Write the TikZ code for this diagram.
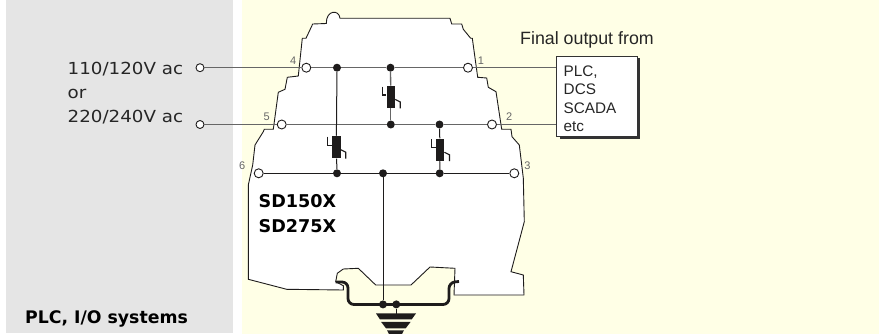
\documentclass[tikz,border=0pt]{standalone}
\usepackage{fontspec}
\setmainfont{Liberation Sans}
\newfontfamily\wideface{DejaVu Sans}
\newfontfamily\supplyface[FakeStretch=1.1]{DejaVu Sans}
\definecolor{panelgrey}{HTML}{E5E5E5}
\definecolor{paleyellow}{HTML}{FFFFE6}
\definecolor{wiregrey}{HTML}{666666}
\definecolor{inkblack}{HTML}{1E1C1C}
\tikzset{
	terminal/.style={circle,draw=inkblack,fill=white,line width=.9pt,minimum size=9pt,inner sep=0pt},
	source/.style={terminal,minimum size=8pt},
	joint/.style={circle,fill=inkblack,minimum size=8pt,inner sep=0pt},
	wire/.style={draw=wiregrey,line width=1.3pt},
	lead/.style={draw=inkblack,line width=1pt},
	varbox/.style={fill=inkblack,minimum width=8.5pt,minimum height=22.5pt,inner sep=0pt},
	hook/.style={draw=inkblack,line width=1.1pt},
	shell/.style={draw=inkblack,fill=white,line width=.9pt},
	pin/.style={text=wiregrey,font=\fontsize{11}{11}\selectfont,inner sep=0pt},
	supply/.style={anchor=base west,inner sep=0pt,font=\supplyface\fontsize{16.6}{18}\selectfont,text=black!85},
	boxline/.style={anchor=base west,inner sep=0pt,font=\fontsize{15.3}{18}\selectfont,text=black!85},
	partno/.style={anchor=base west,inner sep=0pt,font=\wideface\bfseries\fontsize{17.6}{18}\selectfont}
}
\begin{document}
\begin{tikzpicture}[x=1pt,y=-1pt]
	\useasboundingbox (0,0) rectangle (879,334);
	\fill[panelgrey] (6,0) rectangle (233,333);
	\fill[paleyellow] (242,0) rectangle (879,334);

	\draw[shell] (326.3,23.5) .. controls (326,10) and (339,9) .. (340,18.3) -- (450,18.3) -- (451.7,24) -- (461.7,24) -- (463.3,29.3) -- (470.7,38.3) -- (472.3,38.3) -- (477.7,77.3) -- (486.7,78) -- (488.3,87.3) -- (496,91.7) -- (501.7,129.3) -- (511,129.3) -- (512,136.7) -- (519.3,145) -- (523.3,178) -- (524.3,221.7) -- (511,271.7) -- (523.3,275) -- (524,295) -- (454,295) -- (455,268.3) -- (430,267) -- (411,285) -- (375.7,285) -- (358.3,268.3) -- (343.3,269) -- (337.3,273.3) -- (335.7,281.7) -- (343.3,285.7) -- (343.3,290) -- (286.7,289.3) -- (248.3,279.3) -- (248.3,185) -- (252.7,165) -- (255,145) -- (263.3,131.7) -- (264.3,129.3) -- (273.3,129.3) -- (278.3,92.3) -- (285,89.3) -- (287.3,77.3) -- (298.3,76) -- (302.3,38.3) -- (306,38.3) -- (312.7,24) -- cycle;

	\draw[inkblack,line width=2.8pt,rounded corners=6pt] (335.7,282) -- (348,282) -- (348,304.5) -- (449,304.5) -- (449,282.5) -- (459,281.5);

	\node[draw=black!80,fill=white,line width=.8pt,minimum width=80.5pt,minimum height=80pt,inner sep=0pt] (plc) at (597,96.7) {};
	\draw[black!80,line width=1.6pt] (plc.north east)++(1.2,2) -- ++(0,80) -- ++(-79,0);

	\node[source] (s1) at (200,67.7) {};
	\node[source] (s2) at (200,124.5) {};
	\node[terminal] (t4) at (306.3,67.7) {};
	\node[terminal] (t1) at (468,67.7) {};
	\node[terminal] (t5) at (281.7,124.5) {};
	\node[terminal] (t2) at (492,124.5) {};
	\node[terminal] (t6) at (258.7,173.3) {};
	\node[terminal] (t3) at (514.3,173.3) {};

	\node[joint] (d1) at (337,67.7) {};
	\node[joint] (d2) at (390.5,67.7) {};
	\node[joint] (d3) at (390.8,124.5) {};
	\node[joint] (d4) at (439.5,124.5) {};
	\node[joint] (d5) at (337,173.3) {};
	\node[joint] (d6) at (383,173.3) {};
	\node[joint] (d7) at (439.7,173.3) {};
	\node[joint] (d8) at (383,304.4) {};
	\node[joint] (d9) at (396.3,304.4) {};

	\node[varbox] (v1) at (390.8,97) {};
	\node[varbox] (v2) at (336.3,147.2) {};
	\node[varbox] (v3) at (440,149.8) {};

	\draw[wire] (s1) -- (t4);
	\draw[wire] (t4) -- (d1) -- (d2) -- (t1);
	\draw[wire] (t1) -- (plc.west |- t1);
	\draw[wire] (s2) -- (t5);
	\draw[wire] (t5) -- (d3) -- (d4) -- (t2);
	\draw[wire] (t2) -- (plc.west |- t2);
	\draw[lead] (t6) -- (d5) -- (d6) -- (d7) -- (t3);

	\draw[wire] (d2) -- (v1);
	\draw[wire] (v1) -- (d3);
	\draw[lead] (d1) -- (v2);
	\draw[lead] (v2) -- (d5);
	\draw[lead] (d4) -- (v3);
	\draw[lead] (v3) -- (d7);
	\draw[lead] (d6) -- (d8);

	\draw[hook] (v1.north west)++(-4,1) -- ++(0,8.5) -- ++(4,0);
	\draw[hook] (v1.south east)++(0,-9) -- ++(5,2.5) -- ++(0,6.5);
	\draw[hook] (v2.north west)++(-4,1) -- ++(0,8.5) -- ++(4,0);
	\draw[hook] (v2.south east)++(0,-9) -- ++(5,2.5) -- ++(0,6.5);
	\draw[hook] (v3.north west)++(-4,1) -- ++(0,8.5) -- ++(4,0);
	\draw[hook] (v3.south east)++(0,-9) -- ++(5,2.5) -- ++(0,6.5);

	\coordinate (g1) at (396.3,313.5);
	\draw[lead] (d9) -- (g1);
	\fill[inkblack] (376,313.4) -- (416,313.4) -- (411.7,319.4) -- (380,319.4) -- cycle;
	\fill[inkblack] (381,321.8) -- (410.7,321.8) -- (405.7,328.3) -- (386,328.3) -- cycle;
	\fill[inkblack] (387,330.3) -- (404,330.3) -- (402,334) -- (389,334) -- cycle;

	\node[pin] (p4) at (293.3,61) {4};
	\node[pin] (p1) at (481,61) {1};
	\node[pin] (p5) at (266.7,116.7) {5};
	\node[pin] (p2) at (509.3,117) {2};
	\node[pin] (p6) at (242.3,166) {6};
	\node[pin] (p3) at (527.5,166) {3};

	\node[supply] (v110) at (67.5,75) {110/120V ac};
	\node[supply] (vor) at (67.5,99) {or};
	\node[supply] (v220) at (67.5,123) {220/240V ac};

	\node[boxline,font=\fontsize{17.8}{18}\selectfont] (final) at (520,45) {Final output from};
	\node[boxline] (l1) at (563.5,76.7) {PLC,};
	\node[boxline] (l2) at (563.5,95) {DCS};
	\node[boxline] (l3) at (563.5,113.3) {SCADA};
	\node[boxline] (l4) at (563.5,131.7) {etc};

	\node[partno] (sd1) at (258.5,207.7) {SD150X};
	\node[partno] (sd2) at (258.5,232.3) {SD275X};
	\node[partno,font=\wideface\bfseries\fontsize{17.3}{18}\selectfont] (sys) at (25,323.3) {PLC, I/O systems};
\end{tikzpicture}
\end{document}
